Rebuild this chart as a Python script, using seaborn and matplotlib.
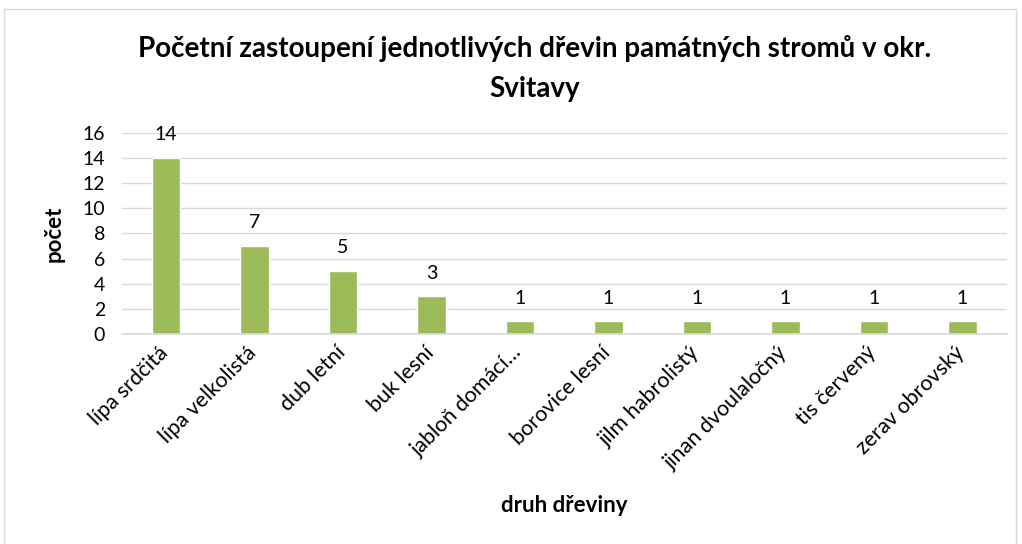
import pandas as pd
import seaborn as sns
import matplotlib.pyplot as plt
from matplotlib.patches import Rectangle
from matplotlib.transforms import ScaledTranslation

# data
druhy = ['lípa srdčitá', 'lípa velkolistá', 'dub letní', 'buk lesní', 'jabloň domácí…',
         'borovice lesní', 'jilm habrolistý', 'jinan dvoulaločný', 'tis červený', 'zerav obrovský']
pocty = [14, 7, 5, 3, 1, 1, 1, 1, 1, 1]

df = pd.DataFrame({'druh': druhy, 'pocet': pocty})

sns.set_theme(style='white')
plt.rcParams['font.family'] = ['Lato', 'DejaVu Sans']

fig = plt.figure(figsize=(10.22, 5.44), dpi=100)
ax = fig.add_axes([0.119, 0.386, 0.866, 0.37])

sns.barplot(data=df, x='druh', y='pocet', color='#9BBB59', width=0.32, saturation=1, ax=ax)

# value labels above bars
for i, v in enumerate(pocty):
    ax.text(i, v + 1.85, str(v), ha='center', va='center', fontsize=14, color='#000000')

ax.set_ylim(0, 16)
ax.set_yticks(range(0, 17, 2))
ax.yaxis.grid(True, color='#D9D9D9', linewidth=1)
ax.set_axisbelow(True)
for s in ['top', 'right', 'left']:
    ax.spines[s].set_visible(False)
ax.spines['bottom'].set_color('#D9D9D9')
ax.tick_params(axis='both', length=0, colors='#000000')
ax.tick_params(axis='y', pad=12, labelsize=14)
ax.tick_params(axis='x', pad=6, labelsize=15.5)
shift = ScaledTranslation(-8 / 100, 0, fig.dpi_scale_trans)
for lab in ax.get_xticklabels():
    lab.set_rotation(45)
    lab.set_ha('right')
    lab.set_rotation_mode('anchor')
    lab.set_transform(lab.get_transform() + shift)

ax.set_xlabel('druh dřeviny', fontsize=16, fontweight='bold', color='#000000')
ax.xaxis.set_label_coords(0.5, -0.80)
ax.set_ylabel('počet', fontsize=16, fontweight='bold', color='#000000')
ax.yaxis.set_label_coords(-0.064, 0.5)

fig.suptitle('Početní zastoupení jednotlivých dřevin památných stromů v okr.\nSvitavy',
             fontsize=20, fontweight='bold', x=0.523, y=0.935, linespacing=1.65,
             color='#000000')

# light border around the chart area
fig.patches.append(Rectangle((0.004, -0.01), 0.99, 0.994, transform=fig.transFigure,
                             fill=False, edgecolor='#D9D9D9', linewidth=1))

fig.savefig('out.png', dpi=100)
